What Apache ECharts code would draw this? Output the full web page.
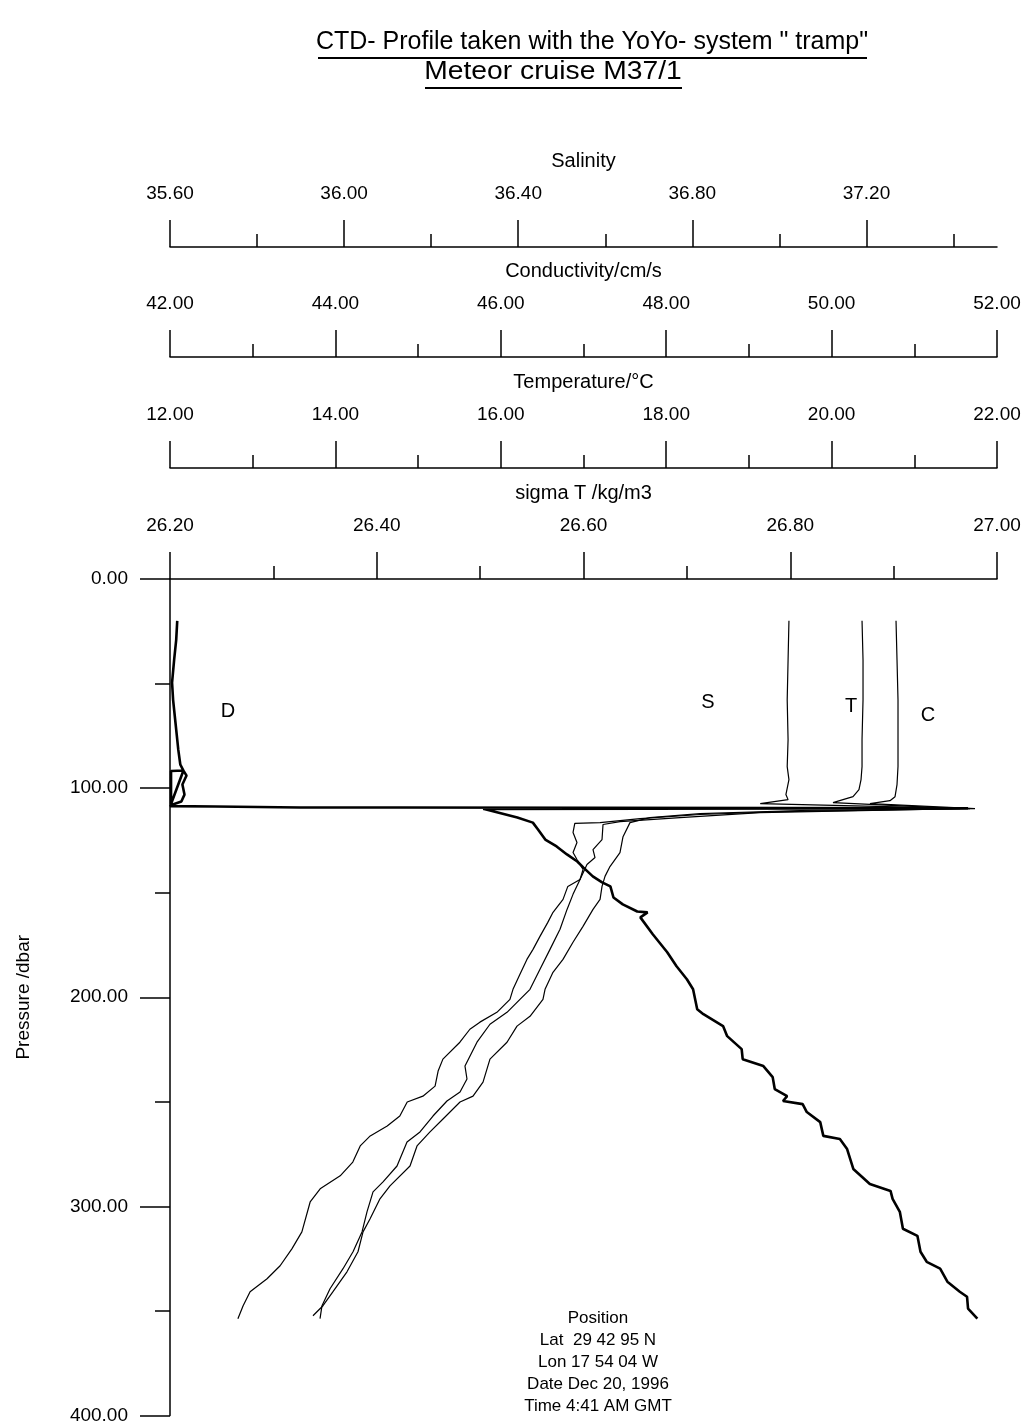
<!DOCTYPE html>
<html><head><meta charset="utf-8">
<script src="https://cdn.jsdelivr.net/npm/echarts@6/dist/echarts.min.js"></script>
<style>html,body{margin:0;padding:0;background:#fff}#c{width:1025px;height:1425px}</style>
</head><body><div id="c"></div>
<script>
// ---- tick labels ----
const salinityTicks = [35.6, 36.0, 36.4, 36.8, 37.2];
const salinityMinorTicks = [35.8, 36.2, 36.6, 37.0, 37.4];

// ---- series values: [value, pressure dbar] ----
const sigmaT = [[26.207,20.0],[26.206,29.1],[26.204,38.7],[26.202,49.6],[26.203,57.8],[26.205,67.3],[26.207,76.8],[26.208,81.6],[26.210,88.8],[26.213,91.6],[26.201,91.8],[26.201,107.6],[26.213,91.6],[26.216,94.0],[26.212,98.3],[26.214,103.1],[26.211,106.4],[26.202,107.9],[26.200,108.6],[26.244,108.8],[26.326,109.3],[26.422,109.3],[26.972,109.6],[26.503,109.9],[26.536,114.1],[26.551,116.5],[26.556,119.8],[26.563,124.6],[26.574,127.9],[26.584,131.7],[26.594,135.1],[26.600,138.0],[26.609,142.2],[26.618,145.1],[26.626,147.0],[26.629,152.3],[26.638,155.6],[26.652,159.0],[26.662,159.4],[26.655,161.8],[26.667,169.9],[26.681,178.5],[26.690,185.2],[26.700,191.4],[26.706,196.2],[26.710,205.7],[26.716,208.1],[26.735,213.8],[26.739,218.6],[26.753,224.8],[26.754,229.6],[26.774,232.9],[26.783,238.2],[26.785,243.9],[26.797,247.3],[26.793,249.6],[26.812,251.1],[26.816,254.9],[26.829,259.7],[26.832,266.3],[26.848,267.8],[26.855,272.6],[26.861,282.1],[26.877,289.3],[26.897,292.6],[26.899,296.4],[26.906,302.6],[26.909,310.7],[26.923,314.1],[26.926,321.7],[26.932,326.5],[26.945,329.8],[26.952,336.0],[26.964,340.8],[26.971,343.2],[26.972,348.9],[26.981,353.7]];

const salinity = [[37.022,20.0],[37.020,38.7],[37.018,57.8],[37.020,76.8],[37.018,89.7],[37.022,95.9],[37.015,103.1],[37.020,105.5],[36.956,107.4],[37.438,109.8],[37.001,111.2],[36.818,112.6],[36.680,114.6],[36.588,116.5],[36.530,116.9],[36.526,121.2],[36.535,126.0],[36.526,130.8],[36.535,134.1],[36.549,138.9],[36.542,143.7],[36.514,147.0],[36.503,153.2],[36.480,159.4],[36.468,164.2],[36.450,170.9],[36.434,177.1],[36.420,181.9],[36.404,189.0],[36.388,196.2],[36.381,201.0],[36.351,207.2],[36.312,211.9],[36.289,215.3],[36.266,221.5],[36.227,229.6],[36.216,235.3],[36.209,242.5],[36.181,247.3],[36.145,250.1],[36.128,256.8],[36.099,261.6],[36.060,266.3],[36.037,271.1],[36.020,278.8],[35.991,285.4],[35.945,291.6],[35.922,297.9],[35.903,312.2],[35.880,320.3],[35.853,328.4],[35.823,334.6],[35.784,340.8],[35.768,347.5],[35.756,353.7]];

const temperature = [[20.368,20.0],[20.380,38.7],[20.380,57.8],[20.368,76.8],[20.368,89.7],[20.356,95.9],[20.331,100.7],[20.259,104.1],[20.017,106.9],[21.553,109.8],[19.134,111.7],[18.167,114.1],[17.441,116.0],[17.236,117.4],[17.224,124.6],[17.115,129.4],[17.139,133.2],[17.042,136.5],[16.958,143.7],[16.873,150.8],[16.801,158.0],[16.716,167.5],[16.595,177.1],[16.474,186.6],[16.353,196.2],[16.232,201.0],[16.075,207.2],[15.869,212.9],[15.712,221.5],[15.567,232.9],[15.591,239.1],[15.507,245.3],[15.349,249.6],[15.180,256.8],[15.023,264.4],[14.866,269.2],[14.745,280.7],[14.576,288.3],[14.455,293.1],[14.382,302.6],[14.322,312.2],[14.213,321.7],[14.092,329.8],[13.935,339.4],[13.838,347.5],[13.814,353.7]];

const conductivity = [[50.779,20.0],[50.791,38.7],[50.803,57.8],[50.803,76.8],[50.803,89.7],[50.791,98.3],[50.767,104.1],[50.706,106.0],[50.464,107.4],[51.734,109.8],[49.618,110.7],[48.409,112.2],[47.804,114.1],[47.562,116.5],[47.478,123.2],[47.441,130.8],[47.320,137.5],[47.260,142.2],[47.224,147.0],[47.200,153.2],[47.115,158.0],[46.994,166.1],[46.873,173.7],[46.752,181.9],[46.631,188.1],[46.535,196.2],[46.510,201.0],[46.353,209.1],[46.196,213.8],[46.075,221.5],[45.869,229.6],[45.785,240.6],[45.664,247.3],[45.507,250.1],[45.301,258.2],[45.144,264.4],[44.987,271.1],[44.902,280.7],[44.660,290.2],[44.539,296.4],[44.418,306.0],[44.334,312.2],[44.273,321.7],[44.140,331.3],[43.971,340.8],[43.850,347.5],[43.729,352.3]];

const titleLines = ['CTD- Profile taken with the YoYo- system " tramp"', 'Meteor cruise M37/1'];
const positionLines = ['Position', 'Lat  29 42 95 N', 'Lon 17 54 04 W', 'Date Dec 20, 1996', 'Time 4:41 AM GMT'];
const curveLabels = ['D', 'S', 'T', 'C'];

const FF = '"Liberation Sans", Arial, sans-serif';
const black = '#000';

function topAxis(name, min, max, interval, offset, dec) {
  return {
    type: 'value', position: 'top', offset: offset, min: min, max: max, interval: interval,
    name: name, nameLocation: 'middle', nameGap: 76,
    nameTextStyle: { color: black, fontSize: 20, fontFamily: FF },
    axisLine: { show: true, onZero: false, lineStyle: { color: black, width: 1.5 } },
    axisTick: { show: true, inside: false, length: 27, lineStyle: { color: black, width: 1.5 } },
    minorTick: { show: true, splitNumber: 2, length: 13, lineStyle: { color: black, width: 1.5 } },
    axisLabel: { show: true, margin: 44, color: black, fontSize: 19, fontFamily: FF,
      formatter: v => v.toFixed(dec) },
    splitLine: { show: false }, minorSplitLine: { show: false }
  };
}

const chart = echarts.init(document.getElementById('c'), null, { renderer: 'canvas' });

const salAxis = topAxis('Salinity', 35.6, 37.5, 0.4, 332, 2);
salAxis.minorTick = { show: false };
salAxis.axisTick = { show: true, length: 27, customValues: salinityTicks, lineStyle: { color: black, width: 1.5 } };
salAxis.axisLabel = Object.assign({}, salAxis.axisLabel, { customValues: salinityTicks });

const salMinor = {
  type: 'value', position: 'top', offset: 332, min: 35.6, max: 37.5,
  axisLine: { show: false, onZero: false },
  axisTick: { show: true, length: 13, customValues: salinityMinorTicks, lineStyle: { color: black, width: 1.5 } },
  axisLabel: { show: false }, splitLine: { show: false }
};

const txt = (text, x, y, size, sx) => ({
  type: 'text', x: x, y: y, scaleX: sx || 1, silent: true,
  style: { text: text, fill: black, font: size + 'px ' + FF, align: 'center', verticalAlign: 'middle' }
});

const graphics = [
  txt(titleLines[0], 592, 42, 25),
  { type: 'line', silent: true, shape: { x1: 318, y1: 58, x2: 867, y2: 58 }, style: { stroke: black, lineWidth: 2 } },
  txt(titleLines[1], 553, 72, 25, 1.13),
  { type: 'line', silent: true, shape: { x1: 425, y1: 88, x2: 682, y2: 88 }, style: { stroke: black, lineWidth: 2 } },
  txt(curveLabels[0], 228, 711, 20),
  txt(curveLabels[1], 708, 702, 20),
  txt(curveLabels[2], 851, 706, 20),
  txt(curveLabels[3], 928, 715, 20)
];
positionLines.forEach((t, i) => graphics.push(txt(t, 598, 1318 + i * 22, 17)));

chart.setOption({
  animation: false,
  backgroundColor: '#fff',
  textStyle: { fontFamily: FF },
  grid: { left: 170, right: 28, top: 579, bottom: 8, containLabel: false },
  xAxis: [
    topAxis('sigma T /kg/m3', 26.2, 27.0, 0.2, 0, 2),
    topAxis('Temperature/°C', 12, 22, 2, 111, 2),
    topAxis('Conductivity/cm/s', 42, 52, 2, 222, 2),
    salAxis,
    salMinor
  ],
  yAxis: {
    type: 'value', inverse: true, min: 0, max: 400, interval: 100,
    name: 'Pressure /dbar', nameLocation: 'middle', nameGap: 137, nameRotate: 90,
    nameTextStyle: { color: black, fontSize: 19, fontFamily: FF },
    axisLine: { show: true, onZero: false, lineStyle: { color: black, width: 1.5 } },
    axisTick: { show: true, inside: false, length: 30, lineStyle: { color: black, width: 1.5 } },
    minorTick: { show: true, splitNumber: 2, length: 15, lineStyle: { color: black, width: 1.5 } },
    axisLabel: { margin: 42, color: black, fontSize: 19, fontFamily: FF, formatter: v => v.toFixed(2) },
    splitLine: { show: false }
  },
  series: [
    { name: 'D', type: 'line', xAxisIndex: 0, data: sigmaT, showSymbol: false, symbol: 'none', clip: false,
      lineStyle: { color: black, width: 2.6 } },
    { name: 'T', type: 'line', xAxisIndex: 1, data: temperature, showSymbol: false, symbol: 'none', clip: false,
      lineStyle: { color: black, width: 1.2 } },
    { name: 'C', type: 'line', xAxisIndex: 2, data: conductivity, showSymbol: false, symbol: 'none', clip: false,
      lineStyle: { color: black, width: 1.2 } },
    { name: 'S', type: 'line', xAxisIndex: 3, data: salinity, showSymbol: false, symbol: 'none', clip: false,
      lineStyle: { color: black, width: 1.2 } }
  ],
  graphic: graphics
});
</script>
</body></html>
